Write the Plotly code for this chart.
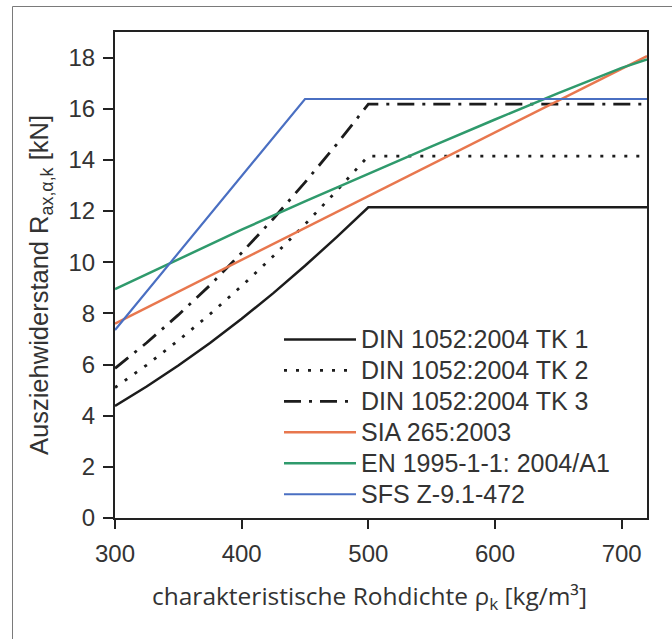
import plotly.graph_objects as go

# ---- data ----
rho_din = [300, 325, 350, 375, 400, 425, 450, 475, 500, 720]
din_tk1 = [4.38, 5.14, 5.96, 6.84, 7.79, 8.79, 9.86, 10.98, 12.15, 12.15]
din_tk2 = [5.10, 5.98, 6.94, 7.97, 9.07, 10.24, 11.48, 12.79, 14.15, 14.15]
din_tk3 = [5.85, 6.85, 7.94, 9.10, 10.37, 11.70, 13.12, 14.61, 16.18, 16.18]

rho_sia = [300, 720]
sia = [7.60, 18.06]

rho_en = [300, 350, 400, 450, 500, 550, 600, 650, 700, 720]
en = [8.95, 10.12, 11.27, 12.38, 13.47, 14.53, 15.58, 16.61, 17.60, 17.93]

rho_sfs = [300, 450, 720]
sfs = [7.35, 16.38, 16.38]

names = ["DIN 1052:2004 TK 1", "DIN 1052:2004 TK 2", "DIN 1052:2004 TK 3",
         "SIA 265:2003", "EN 1995-1-1: 2004/A1", "SFS Z-9.1-472"]

x_ticks = [300, 400, 500, 600, 700]
y_ticks = [0, 2, 4, 6, 8, 10, 12, 14, 16, 18]

x_title = "charakteristische Rohdichte ρ<sub>k</sub> [kg/m³]"
y_title = "Ausziehwiderstand R<sub>ax,α,k</sub> [kN]"

BLACK = "#1c1c1c"
ORANGE = "#e8774e"
GREEN = "#2f9a6c"
BLUE = "#4a6fc2"
TEXT = "#333333"
SANS = "Liberation Sans, Arial, sans-serif"


def lg(n):
    return '<span style="font-size:25px">' + n + "</span>"


fig = go.Figure()
fig.add_trace(go.Scatter(x=rho_din, y=din_tk1, mode="lines", name=lg(names[0]),
                         line=dict(color=BLACK, width=2.5)))
fig.add_trace(go.Scatter(x=rho_din, y=din_tk2, mode="lines", name=lg(names[1]),
                         line=dict(color=BLACK, width=2.8, dash="3px,9px")))
fig.add_trace(go.Scatter(x=rho_din, y=din_tk3, mode="lines", name=lg(names[2]),
                         line=dict(color=BLACK, width=2.8, dash="17px,8px,3px,8px")))
fig.add_trace(go.Scatter(x=rho_sia, y=sia, mode="lines", name=lg(names[3]),
                         line=dict(color=ORANGE, width=2.5)))
fig.add_trace(go.Scatter(x=rho_en, y=en, mode="lines", name=lg(names[4]),
                         line=dict(color=GREEN, width=2.5)))
fig.add_trace(go.Scatter(x=rho_sfs, y=sfs, mode="lines", name=lg(names[5]),
                         line=dict(color=BLUE, width=2.2)))

W, H = 672, 639
L, R, T, B = 115, 25, 32, 121
pw = W - L - R
ph = H - T - B


def px_x(p):
    return (p - L) / pw


def px_y(p):
    return (H - B - p) / ph


fig.update_layout(
    width=W, height=H,
    margin=dict(l=L, r=R, t=T, b=B, pad=0),
    paper_bgcolor="white", plot_bgcolor="white",
    font=dict(family=SANS, color=TEXT, size=24),
    showlegend=True,
    legend=dict(
        x=px_x(279), y=px_y(319),
        xanchor="left", yanchor="top",
        bgcolor="rgba(0,0,0,0)", borderwidth=0,
        font=dict(size=21.5, family=SANS, color=TEXT),
        itemwidth=72, tracegroupgap=0,
    ),
    xaxis=dict(
        range=[300, 720], tickvals=x_ticks, ticktext=[str(v) for v in x_ticks],
        showgrid=False, zeroline=False,
        showline=True, linecolor="#222222", linewidth=2, mirror=True,
        ticks="outside", ticklen=9, tickwidth=1.5, tickcolor="#222222",
        ticklabelstandoff=4,
    ),
    yaxis=dict(
        range=[0, 19], tickvals=y_ticks, ticktext=[str(v) for v in y_ticks],
        showgrid=False, zeroline=False,
        showline=True, linecolor="#222222", linewidth=2, mirror=True,
        ticks="outside", ticklen=10, tickwidth=1.5, tickcolor="#222222",
        ticklabelstandoff=3,
    ),
    annotations=[
        dict(text=x_title, xref="paper", yref="paper", x=px_x(369), y=px_y(597),
             xanchor="center", yanchor="middle", showarrow=False,
             font=dict(family="Open Sans, sans-serif", size=24.5, color=TEXT)),
        dict(text=y_title, xref="paper", yref="paper", x=px_x(41), y=px_y(285),
             xanchor="center", yanchor="middle", showarrow=False, textangle=-90,
             font=dict(family=SANS, size=25.5, color=TEXT)),
    ],
    shapes=[dict(type="rect", xref="paper", yref="paper",
                 x0=px_x(12.5), x1=px_x(W + 20),
                 y0=px_y(H + 20), y1=px_y(6.5),
                 line=dict(color="#7a7a7a", width=1), fillcolor="rgba(0,0,0,0)",
                 layer="below")],
)

fig.write_html("out.html", config={"displayModeBar": False},
               post_script="document.body.style.margin='0px';document.body.style.overflow='hidden';")
